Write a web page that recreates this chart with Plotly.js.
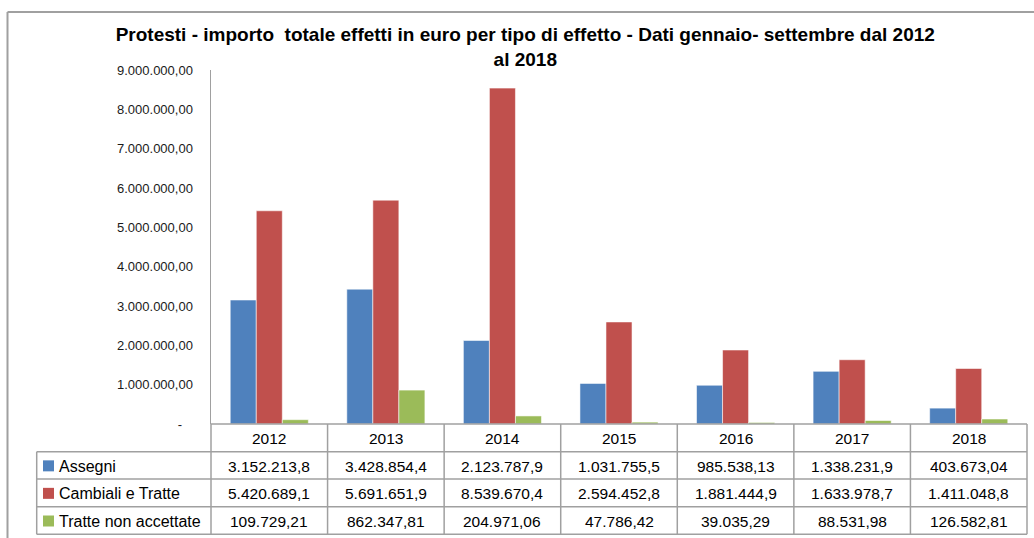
<!DOCTYPE html>
<html>
<head>
<meta charset="utf-8">
<script src="https://cdn.plot.ly/plotly-3.0.1.min.js"></script>
<style>html,body{margin:0;padding:0;background:#fff;}#chart{width:1034px;height:538px;}</style>
</head>
<body>
<div id="chart"></div>
<script>
// ---- data ----
const years = ['2012', '2013', '2014', '2015', '2016', '2017', '2018'];
const seriesNames = ['Assegni', 'Cambiali e Tratte', 'Tratte non accettate'];
const assegni = [3152213.8, 3428854.4, 2123787.9, 1031755.5, 985538.13, 1338231.9, 403673.04];
const cambiali = [5420689.1, 5691651.9, 8539670.4, 2594452.8, 1881444.9, 1633978.7, 1411048.8];
const tratteNonAccettate = [109729.21, 862347.81, 204971.06, 47786.42, 39035.29, 88531.98, 126582.81];
const yTickVals = [0, 1000000, 2000000, 3000000, 4000000, 5000000, 6000000, 7000000, 8000000, 9000000];
const yTickText = ['-\u00a0\u00a0\u00a0', '1.000.000,00', '2.000.000,00', '3.000.000,00', '4.000.000,00',
  '5.000.000,00', '6.000.000,00', '7.000.000,00', '8.000.000,00', '9.000.000,00'];
const colors = ['#4F81BD', '#C0504D', '#9BBB59'];

// Italian number format, max 8 significant digits, max 2 decimals
function fmtIt(v) {
  const intDigits = String(Math.floor(Math.abs(v))).length;
  const dec = Math.max(0, Math.min(2, 8 - intDigits));
  let s = v.toFixed(dec);
  let [ip, dp] = s.split('.');
  ip = ip.replace(/\B(?=(\d{3})+(?!\d))/g, '.');
  if (dp) dp = dp.replace(/0+$/, '');
  return dp ? ip + ',' + dp : ip;
}

// ---- layout geometry (pixels) ----
const W = 1034, H = 538;
const L = 211, R = 1027, T = 70, B = 424;
const px = x => (x - L) / (R - L);
const py = y => (B - y) / (B - T);
const rowEdges = [424, 451.7, 479, 506.7, 534.3];
const labelLeft = 36.7;
const gridColor = '#a0a0a0';
const valueFont = {family: 'Liberation Sans, Arial, sans-serif', size: 15.5, color: '#000'};
const labelFont = {family: 'Liberation Sans, Arial, sans-serif', size: 16, color: '#000'};

const allSeries = [assegni, cambiali, tratteNonAccettate];
const traces = allSeries.map((vals, i) => ({
  type: 'bar',
  x: years,
  y: vals,
  name: seriesNames[i],
  marker: {color: colors[i], line: {color: 'rgba(255,255,255,0.55)', width: 1}},
  hoverinfo: 'x+y+name'
}));

const shapes = [];
const annotations = [];
const line = (x0, y0, x1, y1, color, width) => shapes.push({
  type: 'line', xref: 'paper', yref: 'paper', x0: x0, y0: y0, x1: x1, y1: y1,
  line: {color: color, width: width}
});

// outer frame
line(px(7.5), py(12), px(1040), py(12), '#a0a0a0', 2);
line(px(7.5), py(12), px(7.5), py(545), '#a0a0a0', 2);

// table horizontal lines
line(px(L), py(rowEdges[0]), px(R), py(rowEdges[0]), gridColor, 1.5);
for (let r = 1; r < rowEdges.length; r++) {
  line(px(labelLeft), py(rowEdges[r]), px(R), py(rowEdges[r]), gridColor, 1.5);
}
// table vertical lines
line(px(labelLeft), py(rowEdges[1]), px(labelLeft), py(rowEdges[4]), gridColor, 1.5);
for (let c = 0; c <= years.length; c++) {
  const xp = c / years.length;
  line(xp, py(rowEdges[0]), xp, py(rowEdges[4]), gridColor, 1.5);
}

// header: years (x given as category serial number)
years.forEach((yr, j) => annotations.push({
  xref: 'x', yref: 'paper', x: j, y: py((rowEdges[0] + rowEdges[1]) / 2 + 1),
  text: yr, showarrow: false, xanchor: 'center', yanchor: 'middle', font: valueFont
}));
// rows
allSeries.forEach((vals, i) => {
  const yc = (rowEdges[i + 1] + rowEdges[i + 2]) / 2 + 1;
  shapes.push({type: 'rect', xref: 'paper', yref: 'paper',
    x0: px(43), x1: px(54), y0: py(yc - 6), y1: py(yc + 5),
    fillcolor: colors[i], line: {width: 0}});
  annotations.push({xref: 'paper', yref: 'paper', x: px(57), y: py(yc),
    text: seriesNames[i], showarrow: false, xanchor: 'left', yanchor: 'middle', font: labelFont});
  vals.forEach((v, j) => annotations.push({
    xref: 'x', yref: 'paper', x: j, y: py(yc),
    text: fmtIt(v), showarrow: false, xanchor: 'center', yanchor: 'middle', font: valueFont
  }));
});

const layout = {
  width: W, height: H,
  margin: {l: L, r: W - R, t: T, b: H - B, pad: 0},
  paper_bgcolor: '#fff', plot_bgcolor: '#fff',
  barmode: 'group', bargap: 0.33, bargroupgap: 0,
  showlegend: false,
  title: {
    text: 'Protesti - importo\u00a0 totale effetti in euro per tipo di effetto - Dati gennaio- settembre dal 2012<br>al 2018',
    font: {family: 'Liberation Sans Narrow, Arial Narrow, sans-serif', size: 19, color: '#000', weight: 'bold'},
    x: 0.508, xanchor: 'center', y: 0.923, yanchor: 'top', yref: 'container'
  },
  xaxis: {type: 'category', range: [-0.5, 6.5], showticklabels: false, showline: false,
    showgrid: false, zeroline: false, ticks: '', fixedrange: true},
  yaxis: {range: [0, 9000000], tickvals: yTickVals, ticktext: yTickText, showgrid: false,
    zeroline: false, showline: true, linecolor: '#a0a0a0', linewidth: 1.5, ticks: '',
    ticklabelstandoff: 14,
    tickfont: {family: 'Liberation Sans, Arial, sans-serif', size: 13, color: '#1a1a1a'},
    fixedrange: true},
  shapes: shapes,
  annotations: annotations
};

Plotly.newPlot('chart', traces, layout, {displayModeBar: false, staticPlot: true});
</script>
</body>
</html>
